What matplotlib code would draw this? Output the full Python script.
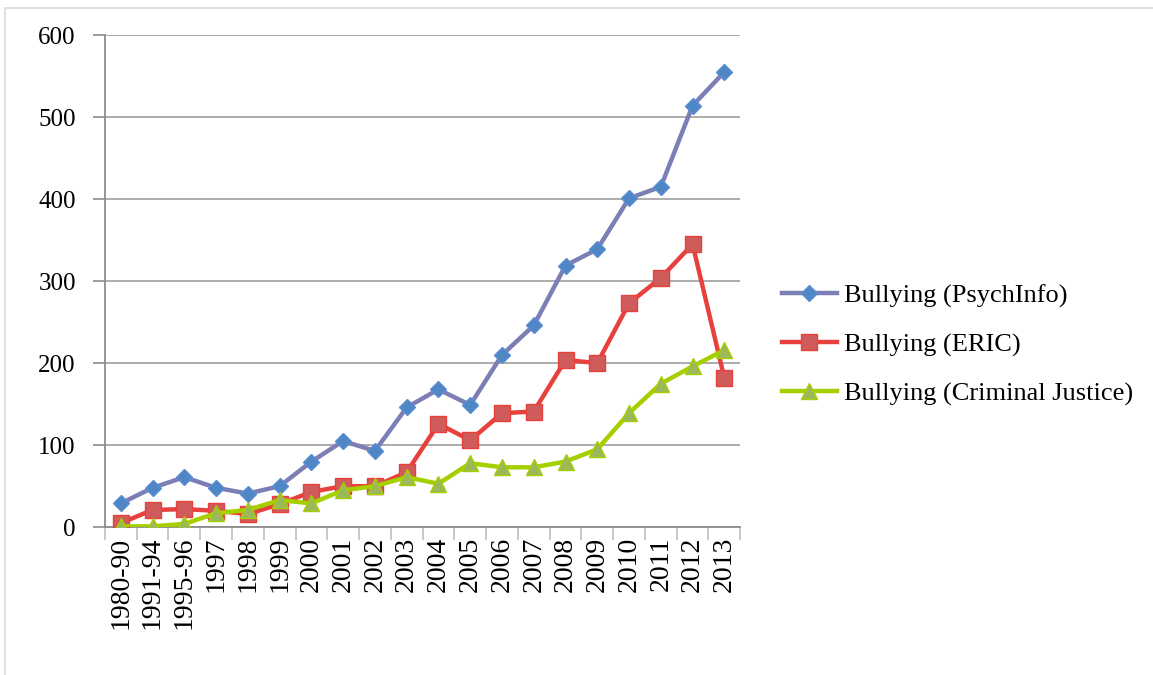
import matplotlib
matplotlib.use("Agg")
import matplotlib.pyplot as plt
from matplotlib.patches import Rectangle
import numpy as np

# Category labels along the x axis
years = ["1980-90", "1991-94", "1995-96", "1997", "1998", "1999", "2000",
         "2001", "2002", "2003", "2004", "2005", "2006", "2007", "2008",
         "2009", "2010", "2011", "2012", "2013"]

# Counts
psychinfo = [29, 48, 61, 48, 41, 50, 80, 105, 93, 146, 168, 149, 210, 246,
             319, 339, 401, 415, 514, 555]
eric = [5, 21, 22, 20, 16, 28, 43, 50, 50, 67, 126, 106, 139, 141, 204,
        200, 273, 304, 345, 182]
criminal_justice = [1, 1, 4, 17, 21, 33, 29, 45, 50, 61, 53, 78, 73, 73,
                    80, 95, 139, 175, 196, 216]

plt.rcParams['font.family'] = ['Liberation Serif', 'DejaVu Serif']

fig = plt.figure(figsize=(11.53, 6.75), dpi=100)
ax = fig.add_axes([0.091, 0.219, 0.551, 0.729])

x = np.arange(len(years))

ax.plot(x, psychinfo, color="#7b7fb5", lw=3.2, marker="D", markersize=8,
        markerfacecolor="#4f86c6", markeredgecolor="#5b8ed0",
        label="Bullying (PsychInfo)", zorder=3)
ax.plot(x, eric, color="#e8403c", lw=3.2, marker="s", markersize=11,
        markerfacecolor="#cf5b5b", markeredgecolor="#e8403c",
        label="Bullying (ERIC)", zorder=3)
ax.plot(x, criminal_justice, color="#a6cf00", lw=3.2, marker="^", markersize=11,
        markerfacecolor="#9bb85a", markeredgecolor="#a6cf00",
        label="Bullying (Criminal Justice)", zorder=3)

ax.set_xlim(-0.5, len(years) - 0.5)
ax.set_ylim(0, 600)
ax.set_yticks(range(0, 601, 100))
ax.yaxis.grid(True, color="#a6a6a6", lw=1.3)
ax.set_axisbelow(True)

ax.set_xticks(x)
ax.set_xticklabels(years, rotation=90, fontsize=20)
ax.set_xticks(np.arange(-0.5, len(years), 1), minor=True)
ax.tick_params(axis="x", which="major", length=0, pad=7)
ax.tick_params(axis="x", which="minor", length=9, color="#bfbfbf", width=1.2)
ax.tick_params(axis="y", length=9, color="#8c8c8c", width=1.2, labelsize=18, pad=12)

for side in ["top", "right"]:
    ax.spines[side].set_visible(False)
ax.spines["left"].set_color("#8c8c8c")
ax.spines["left"].set_linewidth(1.3)
ax.spines["bottom"].set_color("#8c8c8c")
ax.spines["bottom"].set_linewidth(1.3)

ax.legend(loc="center left", bbox_to_anchor=(1.028, 0.37), frameon=False,
          fontsize=19, handlelength=2.1, labelspacing=0.95, handletextpad=0.25)

# thin chart border like the original
fig.patches.append(Rectangle((0.004, -0.01), 1.1, 0.998, transform=fig.transFigure,
                             fill=False, edgecolor="#d9d9d9", lw=1.2))

fig.savefig("out.png", dpi=100)
